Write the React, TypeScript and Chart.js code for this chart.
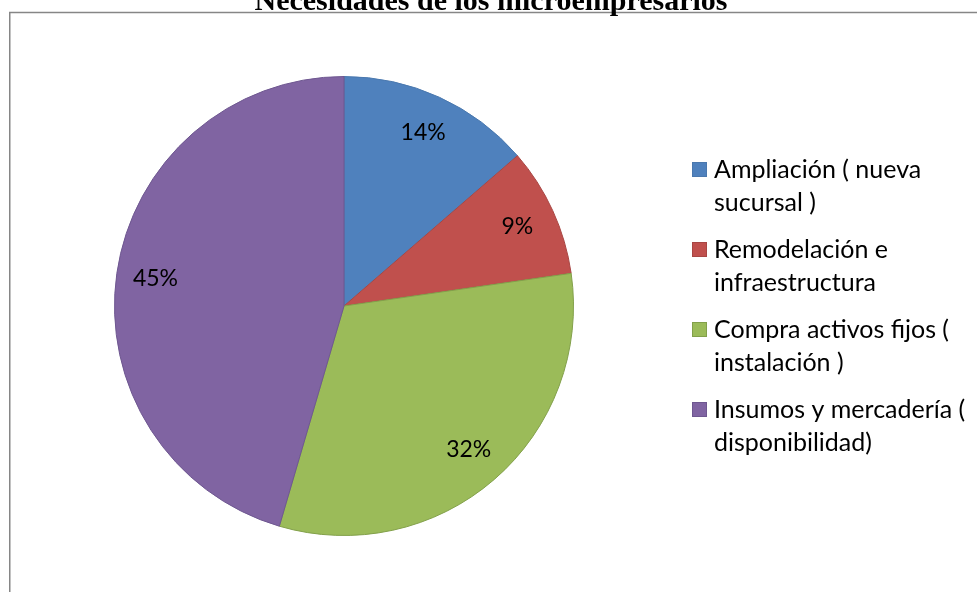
import React, { useEffect, useRef } from "react";
import { Chart, registerables } from "chart.js";

Chart.register(...registerables);

const TITLE = "Necesidades de los microempresarios";
const categories = [
  "Ampliación ( nueva sucursal )",
  "Remodelación e infraestructura",
  "Compra activos fijos ( instalación )",
  "Insumos y mercadería ( disponibilidad)",
];
const legendLines = [
  ["Ampliación ( nueva", "sucursal )"],
  ["Remodelación e", "infraestructura"],
  ["Compra activos fijos (", "instalación )"],
  ["Insumos y mercadería (", "disponibilidad)"],
];
// respondent counts (3/22 = 14%, 2/22 = 9%, 7/22 = 32%, 10/22 = 45%)
const values = [3, 2, 7, 10];
const fillColors = ["#4F81BD", "#C0504D", "#9BBB59", "#8064A2"];
const borderColors = ["#4A78AE", "#A84643", "#82A04A", "#6E5790"];

const W = 977;
const H = 592;
const FONT = "Lato, 'Open Sans', sans-serif";

const total = values.reduce((a, b) => a + b, 0);
const percentLabels = values.map((v) => `${Math.round((v / total) * 100)}%`);

const decorPlugin = {
  id: "decor",
  afterDraw(chart: any) {
    const ctx = chart.ctx as CanvasRenderingContext2D;
    ctx.save();
    // frame
    ctx.strokeStyle = "#868686";
    ctx.lineWidth = 1.5;
    ctx.beginPath();
    ctx.moveTo(9.75, H + 5);
    ctx.lineTo(9.75, 12.5);
    ctx.lineTo(W + 5, 12.5);
    ctx.stroke();

    // title (cut off at top)
    ctx.fillStyle = "#000";
    ctx.font = "bold 30px 'Liberation Serif', 'Times New Roman', serif";
    ctx.textAlign = "center";
    ctx.textBaseline = "alphabetic";
    ctx.fillText(TITLE, 491, 10);

    // percentage labels
    const meta = chart.getDatasetMeta(0);
    ctx.font = `23px ${FONT}`;
    ctx.textAlign = "center";
    ctx.textBaseline = "middle";
    meta.data.forEach((arc: any, i: number) => {
      const p = arc.getProps(["x", "y", "startAngle", "endAngle", "outerRadius"], true);
      const mid = (p.startAngle + p.endAngle) / 2;
      const r = p.outerRadius * 0.83;
      ctx.fillText(percentLabels[i], p.x + Math.cos(mid) * r, p.y + Math.sin(mid) * r);
    });

    // legend
    ctx.textAlign = "left";
    ctx.textBaseline = "alphabetic";
    ctx.font = `25px ${FONT}`;
    legendLines.forEach((lines, i) => {
      const base = 178 + i * 80;
      ctx.fillStyle = fillColors[i];
      ctx.fillRect(692, base - 16, 15, 15);
      ctx.strokeStyle = borderColors[i];
      ctx.lineWidth = 1;
      ctx.strokeRect(692.5, base - 15.5, 14, 14);
      ctx.fillStyle = "#000";
      lines.forEach((t, j) => ctx.fillText(t, 714, base + j * 33));
    });
    ctx.restore();
  },
};

export default function App() {
  const ref = useRef<HTMLCanvasElement | null>(null);
  useEffect(() => {
    if (!ref.current) return;
    const chart = new Chart(ref.current, {
      type: "pie",
      data: {
        labels: categories,
        datasets: [
          {
            data: values,
            backgroundColor: fillColors,
            borderColor: borderColors,
            borderWidth: 1,
          },
        ],
      },
      options: {
        responsive: false,
        animation: false,
        devicePixelRatio: 1,
        layout: { padding: { left: 114, top: 76, right: W - 114 - 460, bottom: H - 76 - 460 } },
        plugins: {
          legend: { display: false },
          title: { display: false },
          tooltip: { enabled: false },
        },
      },
      plugins: [decorPlugin],
    });
    return () => chart.destroy();
  }, []);
  return (
    <div style={{ position: "absolute", left: 0, top: 0, width: W, height: H, background: "#fff" }}>
      <canvas ref={ref} width={W} height={H} style={{ display: "block", width: W, height: H }} />
    </div>
  );
}
